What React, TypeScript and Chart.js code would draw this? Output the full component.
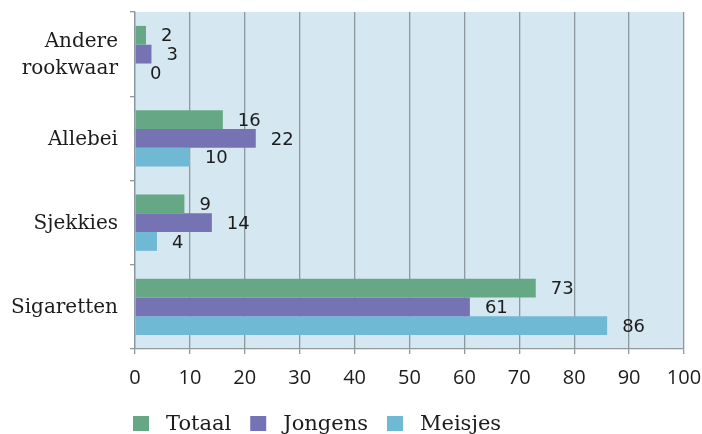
import React, { useEffect, useRef } from 'react';
import { Chart, registerables } from 'chart.js';

Chart.register(...registerables);

const categories: (string | string[])[] = [['Andere', 'rookwaar'], 'Allebei', 'Sjekkies', 'Sigaretten'];
const seriesNames = ['Totaal', 'Jongens', 'Meisjes'];
const totaal = [2, 16, 9, 73];
const jongens = [3, 22, 14, 61];
const meisjes = [0, 10, 4, 86];
const xMin = 0;
const xMax = 100;
const xStep = 10;
const colors = ['#66a886', '#7673b4', '#6fb9d4'];

const SERIF = '"DejaVu Serif", serif';
const SANS = '"DejaVu Sans", sans-serif';
const TICKSANS = '"Open Sans", sans-serif';
const GRID = '#8e989f';
const TEXT = '#1c1c1c';

const bgPlugin = {
  id: 'plotBg',
  beforeDraw(chart: any) {
    const { ctx, chartArea } = chart;
    ctx.save();
    ctx.fillStyle = '#d5e7f1';
    ctx.fillRect(chartArea.left, chartArea.top, chartArea.right - chartArea.left, chartArea.bottom - chartArea.top);
    ctx.restore();
  },
};

const labelPlugin = {
  id: 'barLabels',
  afterDatasetsDraw(chart: any) {
    const { ctx } = chart;
    ctx.save();
    ctx.font = `18px ${SANS}`;
    ctx.fillStyle = TEXT;
    ctx.textAlign = 'left';
    ctx.textBaseline = 'middle';
    chart.data.datasets.forEach((ds: any, i: number) => {
      const meta = chart.getDatasetMeta(i);
      meta.data.forEach((el: any, j: number) => {
        ctx.fillText(String(ds.data[j]), el.x + 15, el.y + 1.5);
      });
    });
    ctx.restore();
  },
};

const legendPlugin = {
  id: 'customLegend',
  afterDraw(chart: any) {
    const { ctx, chartArea } = chart;
    ctx.save();
    ctx.font = `21px ${SERIF}`;
    ctx.textAlign = 'left';
    ctx.textBaseline = 'alphabetic';
    let x = chartArea.left - 2;
    const boxTop = 416;
    const box = 15;
    chart.data.datasets.forEach((ds: any) => {
      ctx.fillStyle = ds.backgroundColor;
      ctx.fillRect(x, boxTop, box + 1, box);
      x += box + 1 + 17;
      ctx.fillStyle = TEXT;
      ctx.fillText(ds.label, x, 430);
      x += ctx.measureText(ds.label).width + 19;
    });
    ctx.restore();
  },
};

export default function App() {
  const ref = useRef<HTMLCanvasElement | null>(null);

  useEffect(() => {
    document.body.style.margin = '0';
    const canvas = ref.current;
    if (!canvas) return;
    const values = [totaal, jongens, meisjes];
    const chart = new Chart(canvas, {
      type: 'bar',
      data: {
        labels: categories as any,
        datasets: seriesNames.map((name, i) => ({
          label: name,
          data: values[i],
          backgroundColor: colors[i],
          borderWidth: 0,
          categoryPercentage: 0.67,
          barPercentage: 1.0,
        })),
      },
      options: {
        indexAxis: 'y',
        animation: false,
        responsive: false,
        devicePixelRatio: 1,
        layout: { padding: { top: 12, right: 18, left: 0, bottom: 0 } },
        plugins: {
          legend: { display: false },
          tooltip: { enabled: false },
        },
        scales: {
          x: {
            min: xMin,
            max: xMax,
            ticks: { stepSize: xStep, font: { family: TICKSANS, size: 20 }, color: TEXT, padding: 12 },
            grid: { color: GRID, lineWidth: 1.3, tickLength: 5 },
            border: { color: GRID, width: 1.3 },
            afterFit(scale: any) {
              scale.height = 85;
              scale.paddingLeft = 0;
              scale.paddingRight = 0;
            },
          },
          y: {
            ticks: { font: { family: SERIF, size: 20, lineHeight: 1.35 }, color: TEXT, padding: 12, labelOffset: 1 },
            grid: { offset: true, drawOnChartArea: false, color: GRID, lineWidth: 1.3, tickLength: 5 },
            border: { color: GRID, width: 1.3 },
            afterFit(scale: any) {
              scale.width = 135;
              scale.paddingTop = 0;
              scale.paddingBottom = 0;
            },
          },
        },
      },
      plugins: [bgPlugin, labelPlugin, legendPlugin],
    });
    return () => chart.destroy();
  }, []);

  return (
    <div style={{ width: 702, height: 434 }}>
      <canvas ref={ref} width={702} height={434} />
    </div>
  );
}
